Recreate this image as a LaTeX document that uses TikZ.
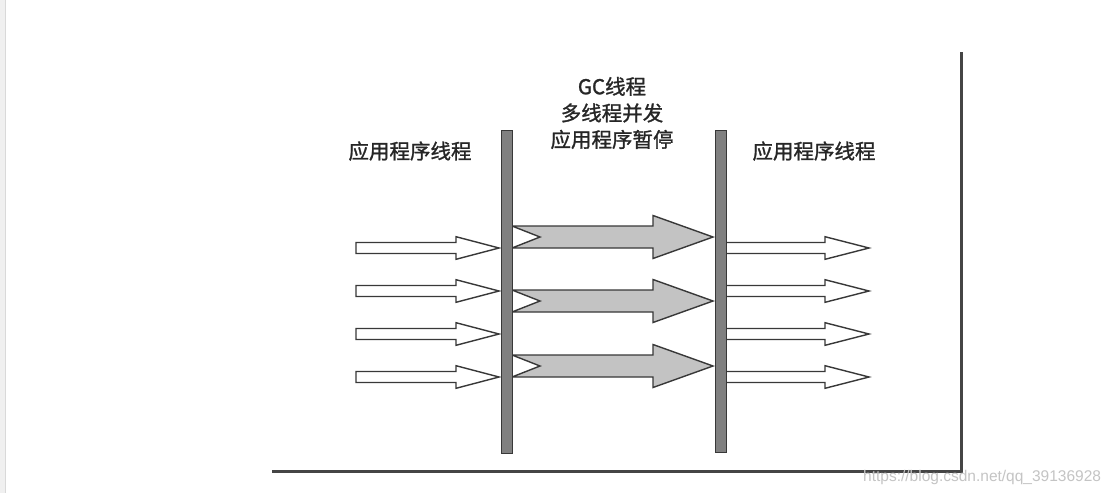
\documentclass[tikz,border=0pt]{standalone}
\usepackage{fontspec}
\newfontfamily\cjk[FakeBold=1.2]{Noto Sans CJK SC}
\newfontfamily\wmfont{Liberation Sans}
\definecolor{barfill}{HTML}{808080}
\definecolor{edgecol}{HTML}{383838}
\definecolor{garrow}{HTML}{C3C3C3}
\definecolor{wmgray}{HTML}{C4C4C4}
\definecolor{stripcol}{HTML}{F0F0F0}
\definecolor{framecol}{HTML}{454545}
% white block arrow: style, x tail, x head base, x tip, y mid, shaft half, head half
\newcommand\harr[7]{\draw[#1] (#2,#5-#6) -- (#3,#5-#6) -- (#3,#5-#7) -- (#4,#5) -- (#3,#5+#7) -- (#3,#5+#6) -- (#2,#5+#6) -- cycle;}
% grey notched block arrow at given y mid
\newcommand\garr[1]{\draw[grayarrow] (512,#1-11) -- (653,#1-11) -- (653,#1-21.5) -- (713,#1) -- (653,#1+21.5) -- (653,#1+11) -- (512,#1+11) -- (540,#1) -- cycle;}
\begin{document}
\begin{tikzpicture}[x=1pt,y=-1pt,
  barbox/.style={draw=edgecol, fill=barfill, line width=1.4pt, inner sep=0pt, minimum width=11pt, anchor=north west},
  whitearrow/.style={draw=edgecol, fill=white, line width=1.4pt, line join=miter},
  grayarrow/.style={draw=edgecol, fill=garrow, line width=1.4pt, line join=miter},
  txt/.style={font=\cjk\fontsize{20.5}{26.5}\selectfont, text=black!85, inner sep=0pt, align=center},
  frameline/.style={draw=framecol, line width=3pt},
  wmtxt/.style={font=\wmfont\fontsize{15.5}{16}\selectfont, text=wmgray, inner sep=0pt, anchor=base west}]
\useasboundingbox (0,0) rectangle (1116,493);
\fill[white] (0,0) rectangle (1116,493);
\fill[stripcol] (0,0) rectangle (5,493);
\draw[draw=black!15, line width=0.8pt] (5.5,0) -- (5.5,493);

% frame (shadow lines)
\draw[frameline] (961,52) -- (961,471) -- (272,471);

% white arrows left
\foreach \yy in {248,291,334,377} {\harr{whitearrow}{356}{456}{499}{\yy}{5.5}{11.3}}
% white arrows right
\foreach \yy in {248,291,334,377} {\harr{whitearrow}{725}{825}{869}{\yy}{5.5}{11.3}}
% grey arrows
\garr{237}
\garr{301}
\garr{366}

% bars
\node[barbox, minimum height=323pt] (lbar) at (500.5,130) {};
\node[barbox, minimum height=322pt] (rbar) at (714.5,130) {};

% labels
\node[txt] (lleft) at (410,151) {应用程序线程};
\node[txt] (lright) at (814,151) {应用程序线程};
\node[txt] (lgc) at (612,113) {GC线程\\多线程并发\\应用程序暂停};

% watermark
\node[wmtxt] (wm) at (863,481) {https://blog.csdn.net/qq\_39136928};
\end{tikzpicture}
\end{document}
